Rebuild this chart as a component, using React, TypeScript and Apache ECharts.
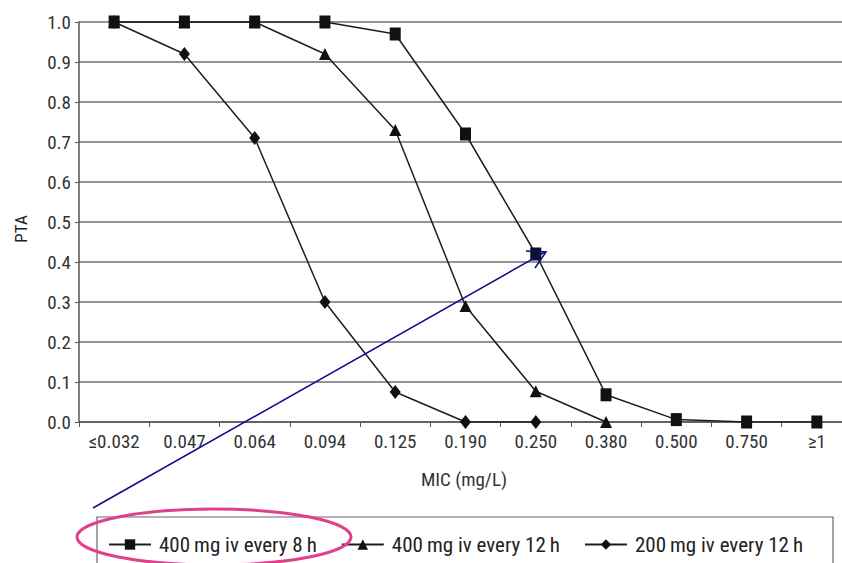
import React, { useEffect, useRef } from "react";
import * as echarts from "echarts";

const categories = ["≤0.032", "0.047", "0.064", "0.094", "0.125", "0.190", "0.250", "0.380", "0.500", "0.750", "≥1"];
const q8h400 = [1.0, 1.0, 1.0, 1.0, 0.97, 0.72, 0.42, 0.068, 0.006, 0.0, 0.0];
const q12h400 = [1.0, 1.0, 1.0, 0.92, 0.73, 0.29, 0.077, 0.0, null, null, null];
const q12h200 = [1.0, 0.92, 0.71, 0.30, 0.075, 0.0, 0.0, null, null, null, null];
const seriesNames = ["400\u2009mg iv every 8\u2009h", "400\u2009mg iv every 12\u2009h", "200\u2009mg iv every 12\u2009h"];

const FONT = "'Roboto Condensed', 'DejaVu Sans Condensed', sans-serif";

export default function App() {
  const ref = useRef<HTMLDivElement>(null);
  useEffect(() => {
    document.body.style.margin = "0";
    document.body.style.overflow = "hidden";
    document.documentElement.style.overflow = "hidden";
    const chart = echarts.init(ref.current!, null, { renderer: "svg" });
    const lineStyle = { color: "#1e1e1e", width: 1.5 };
    const mk = (name: string, data: (number | null)[], symbol: string, size: any, z: number) => ({
      type: "line",
      name,
      data,
      symbol,
      symbolSize: size,
      showAllSymbol: true,
      connectNulls: false,
      z,
      lineStyle,
      itemStyle: { color: "#111" },
    });
    chart.setOption({
      animation: false,
      textStyle: { fontFamily: FONT },
      grid: { left: 79, right: 0, top: 22, bottom: 141, containLabel: false },
      xAxis: {
        type: "category",
        data: categories,
        boundaryGap: true,
        axisLine: { lineStyle: { color: "#555", width: 1.5 } },
        axisTick: { show: true, length: 5, interval: 0, lineStyle: { color: "#555" } },
        axisLabel: { color: "#333", fontSize: 19, margin: 10, interval: 0, fontFamily: FONT },
      },
      yAxis: {
        type: "value",
        min: 0,
        max: 1,
        interval: 0.1,
        axisLine: { show: true, lineStyle: { color: "#555", width: 1.5 } },
        axisTick: { show: true, length: 4, lineStyle: { color: "#555" } },
        axisLabel: {
          color: "#333",
          fontSize: 19,
          margin: 8,
          fontFamily: FONT,
          formatter: (v: number) => v.toFixed(1),
        },
        splitLine: { show: true, lineStyle: { color: "#707070", width: 1.6 } },
      },
      legend: {
        left: 103,
        top: 529,
        itemGap: 24,
        itemWidth: 42,
        itemHeight: 13,
        data: seriesNames,
        textStyle: { color: "#222", fontSize: 21, fontFamily: FONT, padding: [0, 0, 0, 3] },
      },
      series: [
        mk(seriesNames[0], q8h400, "rect", [11, 13], 5),
        mk(seriesNames[1], q12h400, "triangle", [12, 12], 4),
        mk(seriesNames[2], q12h200, "diamond", [11, 14], 3),
      ],
      graphic: [
        {
          type: "text",
          x: 21,
          y: 229,
          rotation: Math.PI / 2,
          style: { text: "PTA", font: `17px ${FONT}`, fill: "#222", align: "center", verticalAlign: "middle" },
        },
        {
          type: "text",
          x: 464,
          y: 479,
          style: { text: "MIC (mg/L)", font: `19px ${FONT}`, fill: "#333", align: "center", verticalAlign: "middle" },
        },
        {
          type: "rect",
          shape: { x: 97, y: 517, width: 736, height: 60 },
          style: { fill: "none", stroke: "#666", lineWidth: 1.2 },
          z: 1,
        },
        {
          type: "ellipse",
          shape: { cx: 214, cy: 537, rx: 137, ry: 28 },
          style: { fill: "none", stroke: "#e0408a", lineWidth: 3 },
          z: 20,
        },
        {
          type: "line",
          shape: { x1: 93, y1: 508, x2: 545, y2: 252 },
          style: { stroke: "#0a0a8f", lineWidth: 1.5 },
          z: 20,
        },
        {
          type: "polyline",
          shape: { points: [[526, 251], [546, 252], [535, 268]] },
          style: { stroke: "#0a0a8f", lineWidth: 1.5, fill: "none" },
          z: 20,
        },
      ],
    });
    return () => chart.dispose();
  }, []);
  return <div ref={ref} style={{ width: 852, height: 563 }} />;
}
